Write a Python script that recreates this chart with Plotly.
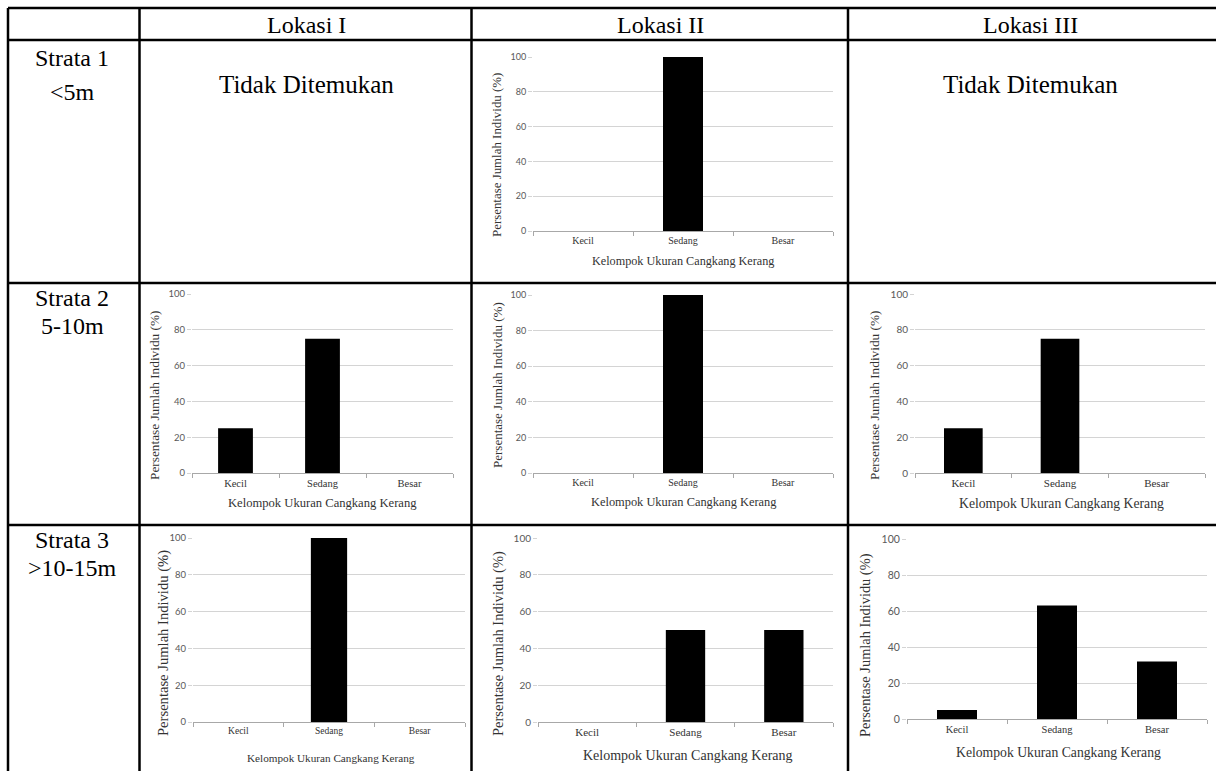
import plotly.graph_objects as go

W, H = 1216, 771

# ---------------- data ----------------
categories = ["Kecil", "Sedang", "Besar"]
lokasi_1_strata_2 = [25, 75, 0]
lokasi_1_strata_3 = [0, 100, 0]
lokasi_2_strata_1 = [0, 100, 0]
lokasi_2_strata_2 = [0, 100, 0]
lokasi_2_strata_3 = [0, 50, 50]
lokasi_3_strata_2 = [25, 75, 0]
lokasi_3_strata_3 = [5, 63, 32]

column_headers = ["Lokasi I", "Lokasi II", "Lokasi III"]
row_headers = [["Strata 1", "<5m"], ["Strata 2", "5-10m"], ["Strata 3", ">10-15m"]]
not_found_text = "Tidak Ditemukan"
y_title = "Persentase Jumlah Individu (%)"
x_title = "Kelompok Ukuran Cangkang Kerang"
y_ticks = [0, 20, 40, 60, 80, 100]

# ---------------- layout helpers (pixel positions) ----------------
def px(x):
    return x / W

def py(y):
    return 1 - y / H

SERIF = "Liberation Serif, Times New Roman, serif"
SANS = "Lato, Carlito, Calibri, sans-serif"
GRID = "#d4d4d4"
AXIS = "#a8a8a8"
TICKTXT = "#595959"

panels = [
    dict(values=lokasi_2_strata_1, x0=533, x1=833, yt=57, yb=231,
         ytl=(497, 155, 12.9), xtl=(683, 261, 12.2), tfs=9, cfs=10),
    dict(values=lokasi_1_strata_2, x0=192, x1=453, yt=294, yb=473,
         ytl=(155, 395, 13.3), xtl=(322, 503, 12.6), tfs=9.5, cfs=10.5),
    dict(values=lokasi_2_strata_2, x0=533, x1=833, yt=295, yb=473,
         ytl=(497, 385, 13.0), xtl=(683, 502, 12.4), tfs=9, cfs=10),
    dict(values=lokasi_3_strata_2, x0=915, x1=1205, yt=294, yb=473,
         ytl=(875, 395, 13.3), xtl=(1061, 503, 13.7), tfs=10, cfs=11),
    dict(values=lokasi_1_strata_3, x0=193, x1=465, yt=538, yb=722,
         ytl=(163, 643, 14.6), xtl=(331, 758, 11.2), tfs=9.5, cfs=9.5),
    dict(values=lokasi_2_strata_3, x0=538, x1=833, yt=538, yb=722,
         ytl=(498, 644, 14.5), xtl=(688, 755, 14.0), tfs=10, cfs=11),
    dict(values=lokasi_3_strata_3, x0=907, x1=1207, yt=539, yb=719,
         ytl=(865, 645, 14.4), xtl=(1058, 752, 13.7), tfs=10.5, cfs=10.5),
]

fig = go.Figure()
annotations = []
layout_axes = {}

for i, p in enumerate(panels, start=1):
    xa = "x" if i == 1 else f"x{i}"
    ya = "y" if i == 1 else f"y{i}"
    fig.add_trace(go.Bar(
        x=categories, y=p["values"], xaxis=xa, yaxis=ya,
        marker=dict(color="#000000", line=dict(width=0)),
        showlegend=False, hoverinfo="x+y",
    ))
    xkey = "xaxis" if i == 1 else f"xaxis{i}"
    ykey = "yaxis" if i == 1 else f"yaxis{i}"
    layout_axes[xkey] = dict(
        domain=[px(p["x0"]), px(p["x1"])], anchor=ya,
        type="category", showgrid=False, showline=True, linecolor=AXIS, linewidth=1,
        ticks="outside", tickson="boundaries", ticklen=4, tickcolor=AXIS, tickwidth=1,
        tickfont=dict(family=SERIF, size=p["cfs"], color="#333333"),
        fixedrange=True, zeroline=False, automargin=False,
    )
    layout_axes[ykey] = dict(
        domain=[py(p["yb"]), py(p["yt"])], anchor=xa,
        range=[0, 100], tickvals=y_ticks, showline=False,
        showgrid=True, gridcolor=GRID, gridwidth=1, zeroline=False,
        ticks="outside", ticklen=4, tickcolor=GRID,
        tickfont=dict(family=SANS, size=p["tfs"], color=TICKTXT),
        fixedrange=True, automargin=False,
    )
    tx, ty, tfs = p["ytl"]
    annotations.append(dict(
        text=y_title, x=px(tx), y=py(ty), xref="paper", yref="paper",
        xanchor="center", yanchor="middle", showarrow=False, textangle=-90,
        font=dict(family=SERIF, size=tfs, color="#333333"),
    ))
    tx, ty, tfs = p["xtl"]
    annotations.append(dict(
        text=x_title, x=px(tx), y=py(ty), xref="paper", yref="paper",
        xanchor="center", yanchor="middle", showarrow=False,
        font=dict(family=SERIF, size=tfs, color="#333333"),
    ))

# ---------------- table text ----------------
header_x = [306, 660, 1030]
for txt, hx in zip(column_headers, header_x):
    annotations.append(dict(
        text=txt, x=px(hx), y=py(25), xref="paper", yref="paper",
        xanchor="center", yanchor="middle", showarrow=False,
        font=dict(family=SERIF, size=24, color="#000000"),
    ))

row_text_y = [(58, 92), (298, 326), (540, 568)]
for (l1, l2), (y1, y2) in zip(row_headers, row_text_y):
    for t, yy in ((l1, y1), (l2, y2)):
        annotations.append(dict(
            text=t, x=px(72), y=py(yy), xref="paper", yref="paper",
            xanchor="center", yanchor="middle", showarrow=False,
            font=dict(family=SERIF, size=24, color="#000000"),
        ))

for nx in (306, 1030):
    annotations.append(dict(
        text=not_found_text, x=px(nx), y=py(84), xref="paper", yref="paper",
        xanchor="center", yanchor="middle", showarrow=False,
        font=dict(family=SERIF, size=25, color="#000000"),
    ))

# ---------------- table grid lines ----------------
shapes = []
LW = 2.5
for yy in (8, 40, 283, 525):
    shapes.append(dict(type="line", xref="paper", yref="paper",
                       x0=px(8), x1=1, y0=py(yy), y1=py(yy),
                       line=dict(color="#000000", width=LW)))
for xx in (8, 139.5, 471.5, 848):
    shapes.append(dict(type="line", xref="paper", yref="paper",
                       x0=px(xx), x1=px(xx), y0=py(8), y1=0,
                       line=dict(color="#000000", width=LW)))

fig.update_layout(
    width=W, height=H,
    autosize=False,
    margin=dict(l=0, r=0, t=0, b=0, pad=0, autoexpand=False),
    paper_bgcolor="#ffffff", plot_bgcolor="#ffffff",
    bargap=0.6,
    annotations=annotations, shapes=shapes,
    showlegend=False,
    **layout_axes,
)

page_fix = (
    "document.documentElement.style.margin='0';"
    "document.documentElement.style.padding='0';"
    "document.documentElement.style.overflow='hidden';"
    "document.body.style.margin='0';"
    "document.body.style.padding='0';"
    "document.body.style.overflow='hidden';"
    "window.scrollTo(0,0);"
)

fig.write_html("out.html", post_script=page_fix, config={"displayModeBar": False})
